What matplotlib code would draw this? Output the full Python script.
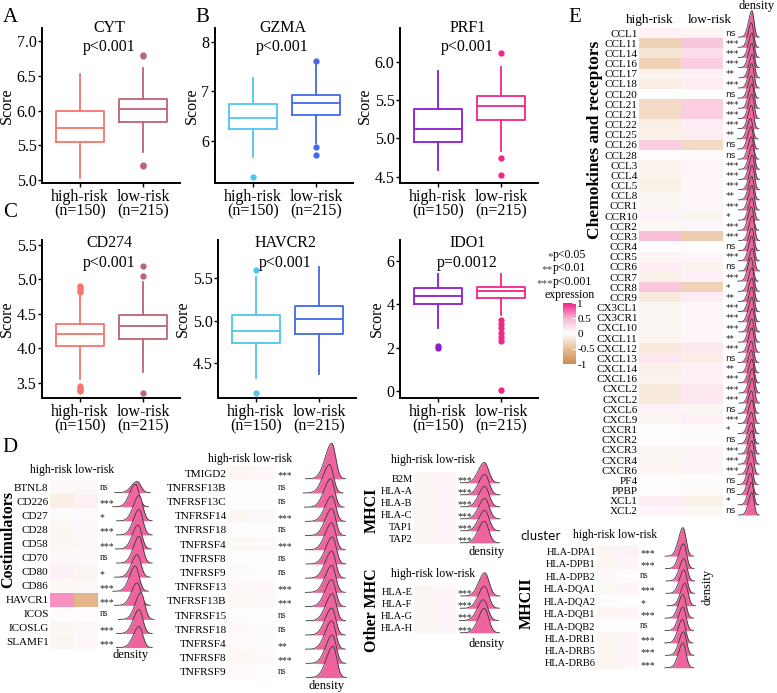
import numpy as np
import matplotlib.pyplot as plt
from matplotlib.colors import LinearSegmentedColormap, Normalize
from matplotlib.cm import ScalarMappable

plt.rcParams['font.family'] = ['Liberation Serif', 'DejaVu Serif']

W, H = 777, 693
fig = plt.figure(figsize=(W / 100, H / 100), dpi=100)


def px_axes(x, y, w, h):
    # axes placed in pixel coords (top-left origin)
    return fig.add_axes([x / W, 1 - (y + h) / H, w / W, h / H])


def fig_text(x, y, s, **kw):
    fig.text(x / W, 1 - y / H, s, **kw)


#%% box plot data: q1, median, q3, whisker low, whisker high  (high-risk, low-risk)
groups = ['high-risk\n(n=150)', 'low-risk\n(n=215)']

cyt_box = [[5.55, 5.75, 6.00, 5.03, 6.53], [5.84, 6.03, 6.17, 5.40, 6.62]]
cyt_out = [[], [6.78, 6.80, 5.20, 5.22]]

gzma_box = [[6.25, 6.46, 6.74, 5.68, 7.28], [6.52, 6.77, 6.92, 5.95, 7.55]]
gzma_out = [[5.28], [5.88, 5.72, 7.62]]

prf1_box = [[4.95, 5.13, 5.38, 4.59, 5.88], [5.24, 5.42, 5.55, 4.84, 5.93]]
prf1_out = [[], [6.12, 4.74, 4.52]]

cd274_box = [[4.03, 4.21, 4.35, 3.55, 4.76], [4.13, 4.33, 4.49, 3.66, 4.96]]
cd274_out = [[4.82, 4.85, 4.88, 4.90, 3.46, 3.43, 3.40, 3.38], [5.05, 5.20, 3.35]]

havcr2_box = [[4.74, 4.88, 5.07, 4.33, 5.51], [4.84, 5.02, 5.17, 4.37, 5.63]]
havcr2_out = [[5.60, 4.15], []]

ido1_box = [[4.00, 4.40, 4.75, 2.90, 5.40], [4.30, 4.60, 4.80, 3.50, 5.40]]
ido1_out = [[2.10, 2.00], [3.30, 3.10, 2.90, 2.70, 2.50, 2.30, 0.05]]

#%% heatmap data (mean scaled expression high-risk / low-risk) and significance
costim_genes = ['BTNL8', 'CD226', 'CD27', 'CD28', 'CD58', 'CD70', 'CD80', 'CD86',
                'HAVCR1', 'ICOS', 'ICOSLG', 'SLAMF1']
costim_high = [0.04, -0.12, -0.03, -0.06, -0.06, 0.04, 0.10, -0.05, 0.62, -0.02, -0.06, -0.07]
costim_low = [0.05, 0.10, 0.03, 0.05, 0.05, 0.04, -0.07, 0.05, -0.58, 0.02, 0.05, 0.06]
costim_sig = ['ns', '***', '*', '***', '***', 'ns', '*', '***', '***', 'ns', '***', '***']
costim_mu = [0.62, 0.58, 0.66, 0.66, 0.64, 0.66, 0.62, 0.58, 0.62, 0.70, 0.66, 0.66]
costim_h = [0.8, 1.6, 1.8, 1.8, 1.7, 1.9, 1.6, 1.8, 1.6, 1.9, 1.7, 1.5]

tnf_genes = ['TMIGD2', 'TNFRSF13B', 'TNFRSF13C', 'TNFRSF14', 'TNFRSF18', 'TNFRSF4',
             'TNFRSF8', 'TNFRSF9', 'TNFRSF13', 'TNFRSF13B', 'TNFRSF15', 'TNFRSF18',
             'TNFRSF4', 'TNFRSF8', 'TNFRSF9']
tnf_high = [-0.06, 0.00, 0.00, -0.06, 0.02, -0.04, 0.02, 0.03, -0.04, -0.04, 0.02, 0.04, 0.03, -0.05, 0.03]
tnf_low = [0.06, 0.02, 0.00, 0.05, 0.00, 0.04, 0.02, 0.02, 0.05, 0.04, 0.00, -0.02, -0.02, 0.04, 0.02]
tnf_sig = ['***', 'ns', 'ns', '***', 'ns', '***', 'ns', 'ns', '***', '***', 'ns', 'ns', '**', '***', 'ns']
tnf_mu = [0.76, 0.72, 0.74, 0.76, 0.76, 0.76, 0.77, 0.76, 0.76, 0.76, 0.77, 0.76, 0.76, 0.77, 0.78]
tnf_h = [2.5, 2.0, 2.0, 1.8, 1.9, 1.9, 1.9, 1.9, 1.9, 1.9, 1.9, 1.9, 2.0, 2.0, 2.2]

mhc1_genes = ['B2M', 'HLA-A', 'HLA-B', 'HLA-C', 'TAP1', 'TAP2']
mhc1_high = [-0.07, -0.07, -0.07, -0.07, -0.07, -0.07]
mhc1_low = [0.07, 0.07, 0.07, 0.07, 0.07, 0.07]
mhc1_sig = ['***'] * 6
mhc1_mu = [0.52, 0.53, 0.53, 0.53, 0.53, 0.52]
mhc1_h = [1.7, 1.7, 1.7, 1.7, 1.7, 1.8]

omhc_genes = ['HLA-E', 'HLA-F', 'HLA-G', 'HLA-H']
omhc_high = [-0.07, -0.07, -0.07, -0.07]
omhc_low = [0.07, 0.07, 0.07, 0.07]
omhc_sig = ['***'] * 4
omhc_mu = [0.53, 0.52, 0.50, 0.52]
omhc_h = [1.9, 1.8, 1.7, 2.0]

mhc2_genes = ['HLA-DPA1', 'HLA-DPB1', 'HLA-DPB2', 'HLA-DQA1', 'HLA-DQA2', 'HLA-DQB1',
              'HLA-DQB2', 'HLA-DRB1', 'HLA-DRB5', 'HLA-DRB6']
mhc2_high = [-0.07, -0.07, 0.04, -0.05, 0.01, -0.07, 0.02, -0.07, -0.07, -0.07]
mhc2_low = [0.08, 0.07, -0.02, 0.07, 0.00, 0.07, 0.00, 0.07, 0.07, 0.07]
mhc2_sig = ['***', '***', 'ns', '***', '*', '***', 'ns', '***', '***', '***']
mhc2_mu = [0.56, 0.57, 0.58, 0.58, 0.60, 0.56, 0.56, 0.55, 0.57, 0.56]
mhc2_h = [2.3, 2.0, 1.8, 1.9, 1.8, 1.9, 1.9, 1.9, 1.9, 2.0]

chemo_genes = ['CCL1', 'CCL11', 'CCL14', 'CCL16', 'CCL17', 'CCL18', 'CCL20', 'CCL21', 'CCL21',
               'CCL22', 'CCL25', 'CCL26', 'CCL28', 'CCL3', 'CCL4', 'CCL5', 'CCL8', 'CCR1',
               'CCR10', 'CCR2', 'CCR3', 'CCR4', 'CCR5', 'CCR6', 'CCR7', 'CCR8', 'CCR9',
               'CX3CL1', 'CX3CR1', 'CXCL10', 'CXCL11', 'CXCL12', 'CXCL13', 'CXCL14', 'CXCL16',
               'CXCL2', 'CXCL2', 'CXCL6', 'CXCL9', 'CXCR1', 'CXCR2', 'CXCR3', 'CXCR4', 'CXCR6',
               'PF4', 'PPBP', 'XCL1', 'XCL2']
chemo_high = [0.09, -0.34, -0.2, -0.34, -0.09, -0.13, 0.00, -0.28, -0.28, -0.13, -0.11, 0.34,
              0.02, -0.09, -0.09, -0.11, -0.06, -0.06, 0.07, -0.05, 0.44, 0.02, -0.07, 0.13,
              -0.11, 0.38, -0.17, -0.07, -0.07, -0.07, -0.07, -0.17, 0.17, -0.11, -0.09,
              -0.17, -0.17, 0.09, -0.07, 0.02, 0.02, -0.07, -0.07, -0.07, 0.02, 0.02, 0.13, 0.06]
chemo_low = [-0.06, 0.38, 0.22, 0.34, 0.09, 0.13, 0.00, 0.34, 0.34, 0.13, 0.11, -0.28,
             -0.02, 0.06, 0.06, 0.06, 0.06, 0.06, -0.06, 0.06, -0.38, -0.02, 0.06, -0.09,
             0.09, -0.34, 0.13, 0.06, 0.06, 0.06, 0.06, 0.17, -0.13, 0.09, 0.09,
             0.17, 0.17, -0.07, 0.09, -0.02, -0.02, 0.07, 0.07, 0.07, -0.02, -0.02, -0.11, -0.06]
chemo_sig = ['ns', '***', '***', '***', '**', '***', 'ns', '***', '***', '***', '**', 'ns',
             'ns', '***', '***', '***', '**', '***', '*', '***', '***', 'ns', '***', 'ns',
             '***', '*', '**', '***', '***', '***', '**', '***', 'ns', '**', '***',
             '***', '***', 'ns', '***', '*', 'ns', '***', '***', '***', 'ns', 'ns', '*', 'ns']
chemo_mu = [0.45, 0.44, 0.45, 0.45, 0.46, 0.45, 0.44, 0.45, 0.45, 0.44, 0.42, 0.43,
            0.44, 0.46, 0.46, 0.46, 0.45, 0.45, 0.45, 0.44, 0.46, 0.45, 0.45, 0.46,
            0.43, 0.45, 0.45, 0.45, 0.45, 0.46, 0.45, 0.45, 0.44, 0.44, 0.45,
            0.46, 0.46, 0.44, 0.45, 0.44, 0.44, 0.45, 0.45, 0.44, 0.42, 0.42, 0.44, 0.45]
chemo_h = [2.6, 2.4, 2.4, 2.4, 2.3, 2.4, 2.2, 2.4, 2.4, 2.3, 2.0, 2.2,
           2.2, 2.4, 2.4, 2.4, 2.3, 2.4, 2.2, 2.3, 2.4, 2.2, 2.4, 2.2,
           2.3, 2.3, 2.3, 2.4, 2.4, 2.3, 2.3, 2.4, 2.1, 2.2, 2.3,
           2.4, 2.4, 2.2, 2.3, 2.1, 2.1, 2.3, 2.3, 2.3, 2.1, 2.1, 2.2, 2.2]

expr_cmap = LinearSegmentedColormap.from_list(
    'expr', [(0, '#CD8A4E'), (0.25, '#E8BE98'), (0.5, '#FFFFFF'), (0.75, '#F8B6D3'), (1, '#F0208B')])
RIDGE = '#F0649E'


#%% box plots
def box_panel(x, y, stats, outs, colors, ylim, yticks, fmt, name, pval):
    ax = px_axes(x, y, 138, 155 if y < 100 else 158)
    for i in range(2):
        q1, med, q3, lo, hi = stats[i]
        ax.bxp([dict(q1=q1, med=med, q3=q3, whislo=lo, whishi=hi, fliers=outs[i])],
               positions=[i + 1], widths=0.76, showcaps=False,
               boxprops=dict(color=colors[i], lw=1.3),
               medianprops=dict(color=colors[i], lw=1.3),
               whiskerprops=dict(color=colors[i], lw=1.3),
               flierprops=dict(marker='o', markerfacecolor=colors[i], markeredgecolor=colors[i],
                               markersize=3.5))
    ax.set_xlim(0.397, 2.587)
    ax.set_ylim(*ylim)
    ax.set_yticks(yticks)
    ax.set_yticklabels([fmt % t for t in yticks], fontsize=11.5)
    ax.set_xticks([1, 2])
    ax.set_xticklabels(groups, fontsize=11.5, linespacing=0.9)
    ax.set_ylabel('Score', fontsize=11.5, labelpad=1)
    for s in ['top', 'right']:
        ax.spines[s].set_visible(False)
    for s in ['left', 'bottom']:
        ax.spines[s].set_linewidth(1.4)
    ax.tick_params(length=3, width=1, pad=1)
    ty = 1.0 if y < 100 else 0.98
    ax.text(0.49, ty, name, transform=ax.transAxes, ha='center', va='center', fontsize=11.5)
    ax.text(0.49, ty - 0.123, pval, transform=ax.transAxes, ha='center', va='center', fontsize=11.5)
    return ax


red_pair = ['#F5756C', '#BF6373']
blue_pair = ['#4FC6EF', '#4169E8']
purple_pair = ['#8C1DCB', '#F0268A']

box_panel(42, 28, cyt_box, cyt_out, red_pair, (4.957, 7.19), [5.0, 5.5, 6.0, 6.5, 7.0], '%.1f', 'CYT', 'p<0.001')
box_panel(215, 28, gzma_box, gzma_out, blue_pair, (5.15, 8.28), [6, 7, 8], '%d', 'GZMA', 'p<0.001')
box_panel(400, 28, prf1_box, prf1_out, purple_pair, (4.42, 6.44), [4.5, 5.0, 5.5, 6.0], '%.1f', 'PRF1', 'p<0.001')
box_panel(42, 240, cd274_box, cd274_out, red_pair, (3.28, 5.57), [3.5, 4.0, 4.5, 5.0, 5.5], '%.1f', 'CD274', 'p<0.001')
box_panel(218, 240, havcr2_box, havcr2_out, blue_pair, (4.09, 5.95), [4.5, 5.0, 5.5], '%.1f', 'HAVCR2', 'p<0.001')
box_panel(400, 240, ido1_box, ido1_out, purple_pair, (-0.32, 6.97), [0, 2, 4, 6], '%d', 'IDO1', 'p=0.0012')


#%% heatmaps + ridges
def heat_block(x, y, w, h, genes, high, low, sig, fs=7.5, sig_fs=7, sig_family=None, sig_dy=0.2):
    ax = px_axes(x, y, w, h)
    vals = np.column_stack([high, low])
    ax.imshow(vals, cmap=expr_cmap, vmin=-1, vmax=1, aspect='auto', interpolation='nearest')
    ax.set_yticks(range(len(genes)))
    ax.set_yticklabels(genes, fontsize=fs)
    ax.tick_params(length=0, pad=1)
    ax.set_xticks([])
    for s in ax.spines.values():
        s.set_visible(False)
    kw = dict(fontsize=sig_fs, va='center', ha='left', clip_on=False, color='#222222')
    if sig_family:
        kw['family'] = sig_family
    for i, s in enumerate(sig):
        dy = sig_dy if '*' in s else 0
        ax.text(1.56, i + dy, s, **kw)
    return ax


def ridges(x, y, w, h, mu, height, sd_l, sd_r, base_off=0.4):
    n = len(mu)
    ax = px_axes(x, y, w, h)
    ax.set_xlim(0, 1)
    ax.set_ylim(n - 0.5, -0.5)
    ax.axis('off')
    for i in range(n):
        xs = np.linspace(mu[i] - 4 * sd_l, mu[i] + 3.5 * sd_r, 300)
        sd = np.where(xs < mu[i], sd_l, sd_r)
        curve = np.exp(-0.5 * ((xs - mu[i]) / sd) ** 2)
        base = i + base_off
        top = base - height[i] * curve
        ax.fill_between(xs, base, top, color=RIDGE, lw=0, zorder=2 * i, clip_on=False)
        ax.plot(xs, top, color='#3a3a3a', lw=0.6, zorder=2 * i + 1, clip_on=False)
    return ax


header = 'high-risk low-risk'

# costimulators
heat_block(50, 480, 48, 169, costim_genes, costim_high, costim_low, costim_sig, fs=8)
ridges(108, 480, 47, 169, costim_mu, costim_h, 0.12, 0.08)
fig_text(72, 470, header, ha='center', va='center', fontsize=8.5)
fig_text(131, 655, 'density', ha='center', va='center', fontsize=9)
fig_text(8, 540, 'Costimulators', rotation=90, ha='center', va='center', fontsize=11.5, fontweight='bold')

# TNF family
heat_block(228, 466, 48, 213, tnf_genes, tnf_high, tnf_low, tnf_sig, fs=8)
ridges(290, 466, 55, 213, tnf_mu, tnf_h, 0.12, 0.07)
fig_text(250, 459, header, ha='center', va='center', fontsize=8.5)
fig_text(327, 686, 'density', ha='center', va='center', fontsize=9)

# MHC I
heat_block(414, 472, 42, 72, mhc1_genes, mhc1_high, mhc1_low, mhc1_sig, fs=7.5)
ridges(462, 472, 43, 72, mhc1_mu, mhc1_h, 0.14, 0.1)
fig_text(433, 460, header, ha='center', va='center', fontsize=8.5)
fig_text(487, 552, 'density', ha='center', va='center', fontsize=9)
fig_text(372, 510, 'MHCI', rotation=90, ha='center', va='center', fontsize=11.5, fontweight='bold')

# other MHC
heat_block(414, 585, 42, 49, omhc_genes, omhc_high, omhc_low, omhc_sig, fs=7.5)
ridges(462, 585, 43, 49, omhc_mu, omhc_h, 0.14, 0.1)
fig_text(433, 574, header, ha='center', va='center', fontsize=8.5)
fig_text(487, 644, 'density', ha='center', va='center', fontsize=9)
fig_text(372, 610, 'Other MHC', rotation=90, ha='center', va='center', fontsize=11.5, fontweight='bold')

# MHC II
heat_block(597, 545, 42, 124, mhc2_genes, mhc2_high, mhc2_low, mhc2_sig, fs=7.5)
ridges(655, 545, 50, 124, mhc2_mu, mhc2_h, 0.09, 0.06)
fig_text(615, 535, header, ha='center', va='center', fontsize=8.5)
fig_text(707, 587, 'density', rotation=90, ha='center', va='center', fontsize=9)
fig_text(527, 603, 'MHCII', rotation=90, ha='center', va='center', fontsize=11.5, fontweight='bold')
fig_text(541, 537, 'cluster', ha='center', va='center', fontsize=8.5, family='DejaVu Sans')

# chemokines
heat_block(639, 28, 84, 488, chemo_genes, chemo_high, chemo_low, chemo_sig, fs=8,
           sig_fs=6.5, sig_family='DejaVu Sans', sig_dy=0.12)
fig_text(650, 20, 'high-risk', ha='center', va='center', fontsize=9.5)
fig_text(710, 20, 'low-risk', ha='center', va='center', fontsize=9.5)
ridges(733, 28, 42, 488, chemo_mu, chemo_h, 0.08, 0.05)
fig_text(757, 6, 'density', ha='center', va='center', fontsize=9)
fig_text(595, 140, 'Chemokines and receptors', rotation=90, ha='center', va='center',
         fontsize=12.5, fontweight='bold')

# legend
for yy, st, pt in [(255, '*', 'p<0.05'), (268, '**', 'p<0.01'), (282, '***', 'p<0.001')]:
    fig_text(553, yy + 2, st, ha='right', va='center', fontsize=8, color='#444444')
    fig_text(553, yy, pt, ha='left', va='center', fontsize=8.5)
fig_text(570, 295, 'expression', ha='center', va='center', fontsize=8.5)
cax = px_axes(563, 303, 13, 61)
cb = fig.colorbar(ScalarMappable(Normalize(-1, 1), expr_cmap), cax=cax, ticks=[-1, -0.5, 0, 0.5, 1])
cb.outline.set_visible(False)
cb.ax.set_yticklabels(['-1', '-0.5', '0', '0.5', '1'])
cb.ax.tick_params(labelsize=8, length=3, color='white', direction='in', pad=1)

# panel letters
for lx, ly, lt in [(10, 18, 'A'), (202, 18, 'B'), (10, 213, 'C'), (10, 448, 'D'), (575, 17, 'E')]:
    fig_text(lx, ly, lt, ha='center', va='center', fontsize=15)

fig.savefig('out.png', dpi=100)
